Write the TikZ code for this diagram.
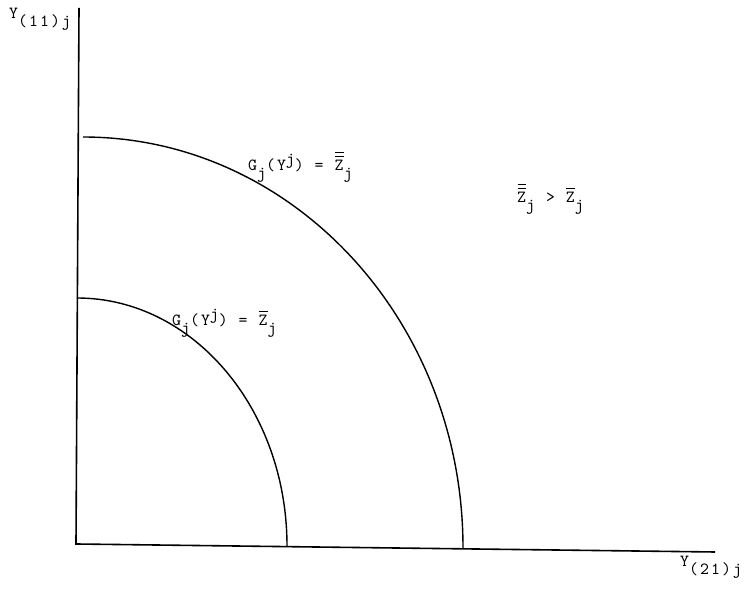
\documentclass[tikz,border=0pt]{standalone}
\usepackage{fontspec}
\setmonofont{lmmono10-regular.otf}[LetterSpace=12]
\newcommand\lowr[1]{\raisebox{-8pt}{#1}}
\newcommand\uppr[1]{\raisebox{6.5pt}{#1}}
\newcommand\zbar{\makebox[0pt][l]{\hspace{0.5pt}\rule[14.5pt]{8.5pt}{0.9pt}}Z}
\newcommand\zbbar{\makebox[0pt][l]{\hspace{0.5pt}\rule[14pt]{8.5pt}{0.9pt}}\makebox[0pt][l]{\hspace{0.5pt}\rule[18.5pt]{8.5pt}{0.9pt}}Z}
\tikzset{
  lbl/.style={font=\ttfamily\fontsize{17}{19}\selectfont, inner sep=0pt, anchor=base west},
  axis/.style={line width=1.6pt},
  curve/.style={line width=1.4pt}
}
\begin{document}
\begin{tikzpicture}[x=1pt,y=1pt]
\useasboundingbox (0,0) rectangle (750,599);
\coordinate (O) at (76,55);
\coordinate (T) at (79,591);
\coordinate (E) at (715,47);
\draw[axis] (T) -- (O) -- (E);
\coordinate (a1) at (83,462);
\draw[curve] (a1) arc[start angle=90,end angle=0,x radius=380,y radius=411] coordinate (a2);
\coordinate (b1) at (77,301);
\draw[curve] (b1) arc[start angle=90,end angle=0,x radius=210,y radius=248] coordinate (b2);
\node[lbl] (ly) at (9,580) {Y\lowr{(11)j}};
\node[lbl] (lx) at (680,32) {Y\lowr{(21)j}};
\node[lbl] (outer) at (248,428) {G\lowr{j}(Y\uppr{j}) = \zbbar\lowr{j}};
\node[lbl] (inner) at (172,273) {G\lowr{j}(Y\uppr{j}) = \zbar\lowr{j}};
\node[lbl] (cmp) at (517,396) {\zbbar\lowr{j} > \zbar\lowr{j}};
\end{tikzpicture}
\end{document}
